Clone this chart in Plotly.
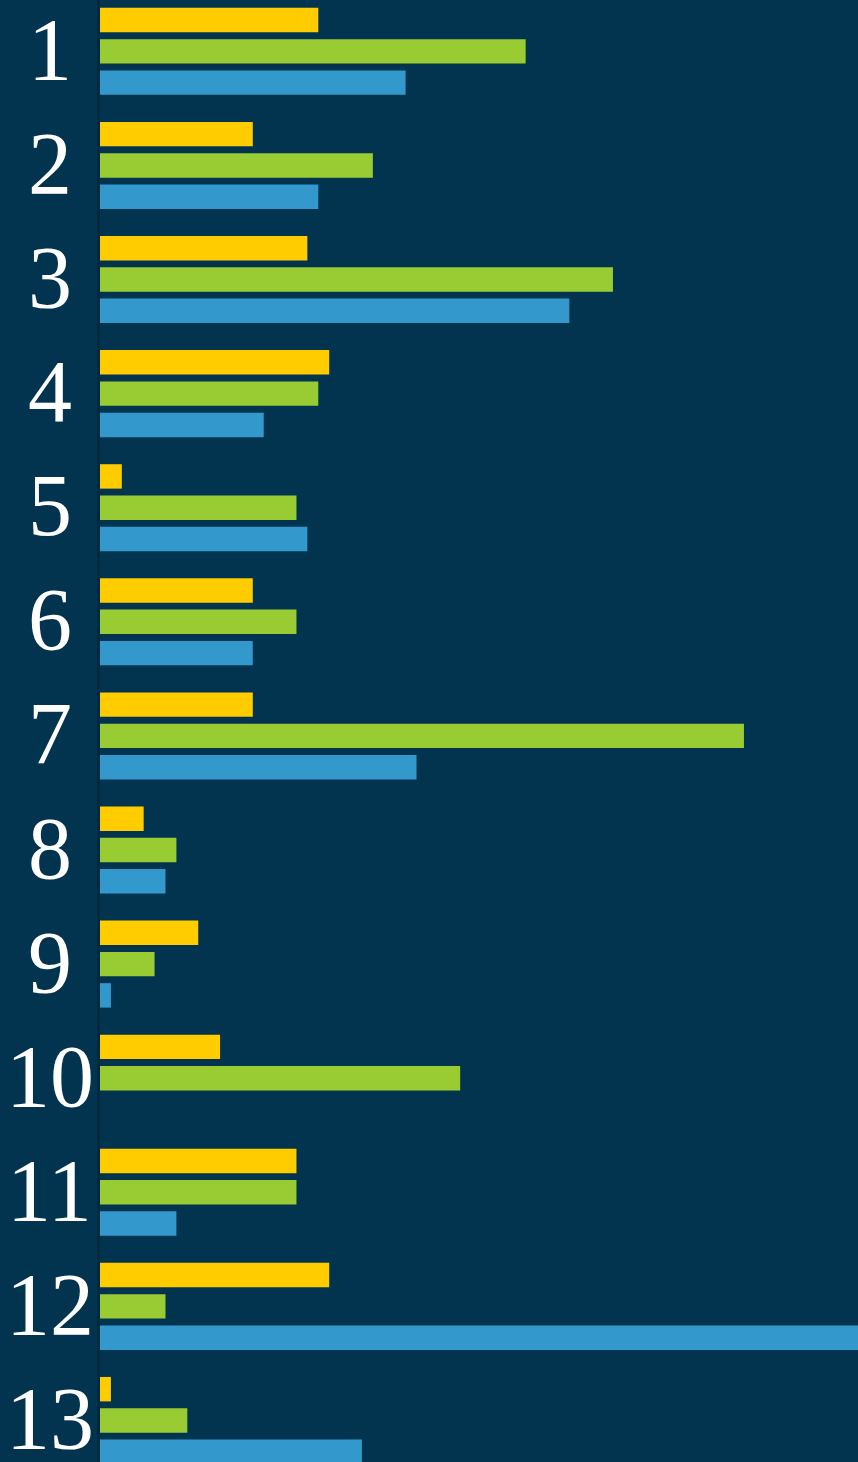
import plotly.graph_objects as go

categories = ["1", "2", "3", "4", "5", "6", "7", "8", "9", "10", "11", "12", "13"]
yellow_vals = [20, 14, 19, 21, 2, 14, 14, 4, 9, 11, 18, 21, 1]
green_vals = [39, 25, 47, 20, 18, 18, 59, 7, 5, 33, 18, 6, 8]
blue_vals = [28, 20, 43, 15, 19, 14, 29, 6, 1, 0, 7, 70, 24]

BG = "#02344f"

fig = go.Figure()
for name, vals, color in [("yellow", yellow_vals, "#ffcc00"),
                          ("green", green_vals, "#99cc33"),
                          ("blue", blue_vals, "#3399cc")]:
    fig.add_trace(go.Bar(x=vals, y=categories, orientation="h", name=name,
                         marker={"color": color, "line": {"width": 0}},
                         hoverinfo="skip"))

# centred category labels left of the axis (y given as category index)
for i, cat in enumerate(categories):
    fig.add_annotation(x=-0.0665, xref="paper", y=i, yref="y",
                       text=cat, showarrow=False, xanchor="center", yanchor="middle",
                       yshift=2,
                       font={"family": "Liberation Serif", "size": 88, "color": "#ffffff"})

fig.update_layout(
    width=858,
    height=1462,
    margin={"l": 100, "r": 0, "t": 0, "b": 0},
    paper_bgcolor=BG,
    plot_bgcolor=BG,
    barmode="group",
    bargap=0.177,
    bargroupgap=0.22,
    showlegend=False,
    xaxis={"range": [0, 69.45], "visible": False, "fixedrange": True},
    yaxis={
        "type": "category",
        "range": [12.364, -0.45],
        "showticklabels": False,
        "showgrid": False,
        "zeroline": False,
        "showline": True,
        "linecolor": "#012a40",
        "linewidth": 3,
        "layer": "below traces",
        "fixedrange": True,
    },
)

fig.write_html(
    "out.html",
    config={"displayModeBar": False},
    post_script="document.body.style.margin='0';document.body.style.background='%s';" % BG,
)
